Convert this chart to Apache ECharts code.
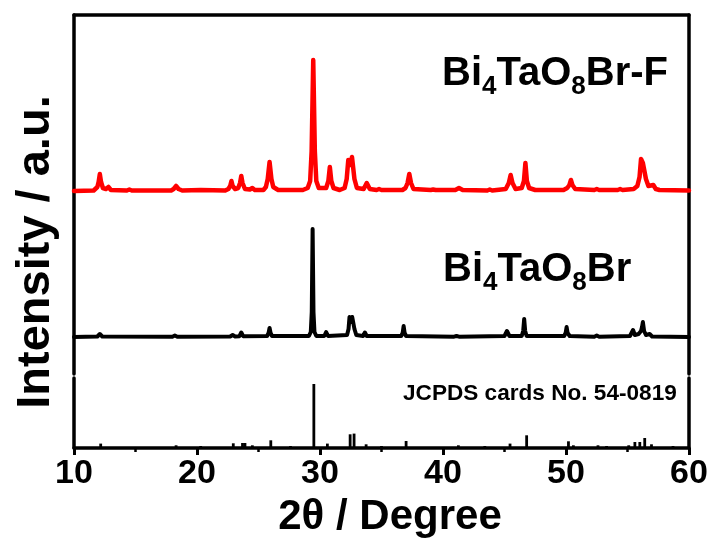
<!DOCTYPE html>
<html>
<head>
<meta charset="utf-8">
<script src="https://cdn.jsdelivr.net/npm/echarts@6/dist/echarts.min.js"></script>
<style>
  html, body { margin: 0; padding: 0; background: #fff; }
  #chart { width: 714px; height: 546px; }
</style>
</head>
<body>
<div id="chart"></div>
<script>
// XRD patterns: fluorinated sample (red), pristine sample (black), reference card (sticks)
// Each pattern: [2theta (deg), intensity (a.u., above its own baseline)]
const patternBrF = [
  [10,0],[11.6,0.5],
  [11.7,1],[11.9,4],[12.0,9],[12.1,17],[12.2,9],[12.35,3],
  [12.6,2],[12.8,4],[13.0,1],
  [14.3,0.5],[14.5,1.5],[14.7,0.5],
  [17.9,0.5],[18.1,2],[18.3,5],[18.5,2],[18.8,0.5],
  [20.3,1],[22.3,0.5],
  [22.55,2],[22.7,5],[22.8,10],[22.9,5],[23.1,2],
  [23.35,3],[23.5,8],[23.6,15],[23.7,8],[23.9,2],
  [24.3,1.5],[24.5,3],[24.7,1],
  [25.4,1],[25.6,4],[25.75,12],[25.9,29],[26.05,12],[26.2,4],[26.6,1],
  [28.6,1],[29.0,3],[29.2,10],[29.32,40],[29.45,131],[29.58,40],[29.7,10],[29.9,3],
  [30.5,3],[30.68,10],[30.8,24],[30.92,10],[31.1,3],[31.6,1],
  [32.0,3],[32.17,12],[32.3,31],[32.45,26],[32.6,34],[32.65,35],[32.8,12],[33.0,3],
  [33.55,2],[33.8,8],[34.05,2],
  [34.6,1],[34.8,2],[35.0,1],
  [36.7,1],[36.95,3],[37.12,8],[37.26,17],[37.4,8],[37.6,2],
  [39.0,1],[39.2,1.5],[39.4,1],
  [41.0,1],[41.3,3],[41.6,1],
  [43.6,0.5],[43.8,1.5],[44.0,0.5],
  [45.1,2],[45.35,8],[45.5,16],[45.65,8],[45.9,2],
  [46.4,3],[46.58,10],[46.7,28],[46.82,10],[47.0,3],[47.5,1],
  [49.8,1],[50.1,3],[50.28,6],[50.4,11],[50.52,6],[50.75,2],
  [52.3,1],[52.5,2],[52.7,1],
  [54.2,1],[54.4,2],[54.6,1],
  [55.5,2],[55.8,5],[55.98,14],[56.1,32],[56.25,28],[56.35,29],[56.5,12],[56.7,5],
  [57.1,6],[57.3,2],[57.6,1],
  [60,0.5]
];

const patternBr = [
  [10,0],[11.9,0.5],[12.1,3],[12.3,0.5],
  [18.0,0.3],[18.2,1.5],[18.4,0.3],
  [22.7,0.5],[22.9,2],[23.1,0.5],[23.45,0.8],[23.6,4.5],[23.75,0.8],
  [25.7,1],[25.82,4],[25.9,9],[25.98,4],[26.1,1],
  [29.1,1],[29.25,5],[29.33,25],[29.4,108],[29.47,25],[29.55,5],[29.7,1],
  [30.35,1],[30.5,5],[30.65,1],
  [32.2,2],[32.32,8],[32.4,20],[32.5,15],[32.62,20],[32.7,22],[32.8,8],[32.95,2],
  [33.5,1],[33.65,4.5],[33.8,1],
  [36.6,1],[36.72,4],[36.8,11],[36.88,4],[37.0,1],
  [40.9,0.3],[41.1,1],[41.3,0.3],
  [45.0,1],[45.2,6],[45.4,1],
  [46.4,1],[46.52,6],[46.6,18],[46.68,6],[46.8,1],
  [49.85,1],[49.97,4],[50.05,10],[50.13,4],[50.3,1],
  [52.3,0.3],[52.5,1.5],[52.7,0.3],
  [55.2,1],[55.45,7],[55.6,2],[55.9,3],[56.1,6],[56.18,10],[56.25,15],[56.35,6],[56.5,2],[56.8,3],[57.0,0.5],
  [60,0]
];

// JCPDS 54-0819 reference lines: [2theta, relative intensity]
const cardLines = [
  [12.17,4.4],[18.3,2.7],[20.3,2],[22.95,4.7],[23.7,5],[23.9,5],[24.5,2.7],
  [26.0,7.7],[27.6,2],[29.5,64],[30.6,4.4],[32.45,13.7],[32.77,14.4],[33.75,3.7],
  [35.0,2],[37.0,7],[41.25,2.7],[43.4,2],[45.45,4.4],[46.8,12.7],[50.2,6.7],
  [50.6,2.7],[52.6,2.7],[53.3,2],[55.1,2.7],[55.6,6],[56.0,6],[56.4,10],
  [56.95,3.7],[58.7,2]
];

const xTicks = [10, 20, 30, 40, 50, 60];

// vertical stacking of the two measured patterns in the upper panel
const offsetBrF = 183;
const offsetBr = 37;
const shift = (pts, dy) => pts.map(p => [p[0], p[1] + dy]);

const FONT = "'Liberation Sans', Arial, sans-serif";
const AXIS_W = 3.5;

const chart = echarts.init(document.getElementById('chart'), null, { renderer: 'canvas' });

const frameLine = () => ({ show: true, onZero: false, lineStyle: { color: '#000', width: AXIS_W } });
const formulaRich = {
  b: { fontFamily: FONT, fontWeight: 'bold', fontSize: 40, lineHeight: 52, fill: '#000' },
  s: { fontFamily: FONT, fontWeight: 'bold', fontSize: 26, lineHeight: 20, verticalAlign: 'bottom', fill: '#000' }
};

chart.setOption({
  animation: false,
  backgroundColor: '#fff',
  grid: [
    { left: 74, right: 25, top: 15, height: 359 },
    { left: 74, right: 25, top: 378, height: 70 }
  ],
  xAxis: [
    {
      gridIndex: 0, type: 'value', position: 'top', min: xTicks[0], max: xTicks[xTicks.length - 1], interval: 10,
      axisLine: frameLine(), axisTick: { show: false }, axisLabel: { show: false }, splitLine: { show: false }
    },
    {
      gridIndex: 1, type: 'value', position: 'bottom', min: xTicks[0], max: xTicks[xTicks.length - 1], interval: 10,
      axisLine: frameLine(),
      axisTick: { show: true, inside: false, length: 7, lineStyle: { color: '#000', width: 3 } },
      minorTick: { show: true, splitNumber: 2, length: 4, lineStyle: { color: '#000', width: 2.5 } },
      axisLabel: { show: true, margin: 9, color: '#000', fontFamily: FONT, fontWeight: 'bold', fontSize: 34 },
      splitLine: { show: false }
    }
  ],
  yAxis: [
    { gridIndex: 0, type: 'value', position: 'left', min: 0, max: 359, axisLine: frameLine(),
      axisTick: { show: false }, axisLabel: { show: false }, splitLine: { show: false } },
    { gridIndex: 0, type: 'value', position: 'right', min: 0, max: 359, axisLine: frameLine(),
      axisTick: { show: false }, axisLabel: { show: false }, splitLine: { show: false } },
    { gridIndex: 1, type: 'value', position: 'left', min: 0, max: 70, axisLine: frameLine(),
      axisTick: { show: false }, axisLabel: { show: false }, splitLine: { show: false } },
    { gridIndex: 1, type: 'value', position: 'right', min: 0, max: 70, axisLine: frameLine(),
      axisTick: { show: false }, axisLabel: { show: false }, splitLine: { show: false } }
  ],
  series: [
    {
      name: 'Bi4TaO8Br-F', type: 'line', xAxisIndex: 0, yAxisIndex: 0,
      data: shift(patternBrF, offsetBrF), showSymbol: false, smooth: false,
      lineStyle: { color: '#ff0000', width: 4.5, join: 'round', cap: 'round' }
    },
    {
      name: 'Bi4TaO8Br', type: 'line', xAxisIndex: 0, yAxisIndex: 0,
      data: shift(patternBr, offsetBr), showSymbol: false, smooth: false,
      lineStyle: { color: '#000', width: 4, join: 'round', cap: 'round' }
    },
    {
      name: 'JCPDS 54-0819', type: 'bar', xAxisIndex: 1, yAxisIndex: 2,
      data: cardLines, barWidth: 2.8, itemStyle: { color: '#000' }
    }
  ],
  graphic: [
    {
      type: 'text', left: 442, top: 54,
      style: { text: '{b|Bi}{s|4}{b|TaO}{s|8}{b|Br-F}', rich: formulaRich }
    },
    {
      type: 'text', left: 443, top: 250,
      style: { text: '{b|Bi}{s|4}{b|TaO}{s|8}{b|Br}', rich: formulaRich }
    },
    {
      type: 'text', x: 403, y: 394,
      style: {
        text: 'JCPDS cards No. 54-0819', fill: '#000',
        font: "bold 22.6px 'Liberation Sans', Arial, sans-serif",
        textAlign: 'left', textVerticalAlign: 'middle', align: 'left', verticalAlign: 'middle'
      }
    },
    {
      type: 'text', x: 390, y: 517,
      style: {
        text: '2θ / Degree', fill: '#000',
        font: "bold 42px 'Liberation Sans', Arial, sans-serif",
        textAlign: 'center', textVerticalAlign: 'middle', align: 'center', verticalAlign: 'middle'
      }
    },
    {
      type: 'text', x: 36, y: 252, rotation: Math.PI / 2,
      style: {
        text: 'Intensity / a.u.', fill: '#000',
        font: "bold 47px 'Liberation Sans', Arial, sans-serif",
        textAlign: 'center', textVerticalAlign: 'middle', align: 'center', verticalAlign: 'middle'
      }
    }
  ]
});
</script>
</body>
</html>
